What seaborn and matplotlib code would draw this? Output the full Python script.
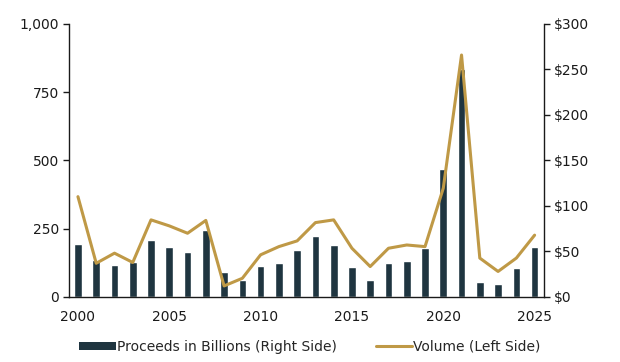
import numpy as np
import pandas as pd
import matplotlib
matplotlib.use("Agg")
import matplotlib.pyplot as plt
import seaborn as sns
from matplotlib.ticker import FuncFormatter
from matplotlib.patches import Patch
from matplotlib.lines import Line2D

years = list(range(2000, 2026))
volume = [367, 123, 160, 126, 282, 260, 233, 280, 40, 68, 154, 184, 205,
          272, 282, 178, 111, 178, 190, 184, 398, 886, 142, 93, 142, 226]
proceeds = [58, 40, 35, 38, 63, 55, 49, 74, 27, 19, 34, 37, 52,
            67, 57, 33, 19, 37, 39, 54, 140, 250, 16, 14, 32, 55]

BAR_COLOR = "#1f3540"
LINE_COLOR = "#bf9946"

sns.set_style("white")
plt.rcParams["font.family"] = ["DejaVu Sans"]
plt.rcParams["font.size"] = 10

df = pd.DataFrame({"year": years, "volume": volume, "proceeds": proceeds})

fig = plt.figure(figsize=(6.2, 3.62), dpi=100)
ax = fig.add_axes([0.111, 0.180, 0.766, 0.754])
ax2 = ax.twinx()

# bars on right axis, line on left axis drawn above
sns.barplot(data=df, x="year", y="proceeds", native_scale=True, width=0.42,
            color=BAR_COLOR, saturation=1, ax=ax2)
sns.lineplot(data=df, x="year", y="volume", color=LINE_COLOR, linewidth=2.2, ax=ax)
ax.set_zorder(ax2.get_zorder() + 1)
ax.patch.set_visible(False)

ax.set_xlim(1999.5, 2025.5)
ax.set_ylim(0, 1000)
ax2.set_ylim(0, 300)
ax.set_yticks([0, 250, 500, 750, 1000])
ax.yaxis.set_major_formatter(FuncFormatter(lambda v, p: f"{int(v):,}"))
ax2.set_yticks([0, 50, 100, 150, 200, 250, 300])
ax2.yaxis.set_major_formatter(FuncFormatter(lambda v, p: f"${int(v)}"))
ax.set_xticks(range(2000, 2026, 5))
ax.set_xlabel("")
ax.set_ylabel("")
ax2.set_xlabel("")
ax2.set_ylabel("")

for a in (ax, ax2):
    for s in a.spines.values():
        s.set_visible(False)
    a.tick_params(colors="#1a1a1a", labelsize=10)
ax.spines["left"].set_visible(True)
ax.spines["bottom"].set_visible(True)
ax2.spines["right"].set_visible(True)
for s in (ax.spines["left"], ax.spines["bottom"], ax2.spines["right"]):
    s.set_color("#1a1a1a")
    s.set_linewidth(1)
ax.tick_params(axis="y", left=True, length=4, width=1, pad=3)
ax.tick_params(axis="x", bottom=False, pad=6)
ax2.tick_params(axis="y", right=True, length=4, width=1, pad=3)
ax2.tick_params(axis="x", bottom=False)

handles = [Patch(facecolor=BAR_COLOR, edgecolor="none"),
           Line2D([0], [0], color=LINE_COLOR, linewidth=2.2)]
labels = ["Proceeds in Billions (Right Side)", "Volume (Left Side)"]
fig.legend(handles, labels, loc="center", bbox_to_anchor=(0.5, 0.042), ncol=2,
           frameon=False, fontsize=10, handlelength=2.6, handleheight=0.5,
           handletextpad=0.1, columnspacing=2.8)

fig.savefig("out.png", dpi=100)
